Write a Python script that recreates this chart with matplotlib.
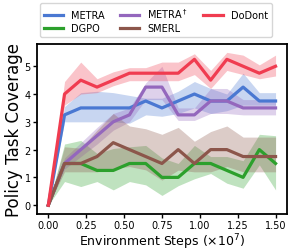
import numpy as np
import matplotlib
matplotlib.use("Agg")
import matplotlib.pyplot as plt

# environment steps (x 1e7)
steps = np.linspace(0, 1.5, 15)

metra = [0, 3.25, 3.5, 3.5, 3.5, 3.5, 3.75, 3.5, 3.75, 4.0, 3.75, 3.75, 4.25, 3.75, 3.75]
metra_lo = [0, 3.0, 3.0, 3.0, 3.0, 2.95, 3.25, 3.2, 3.3, 3.5, 3.3, 3.4, 3.6, 3.6, 3.6]
metra_hi = [0, 3.55, 4.05, 4.1, 4.05, 3.95, 3.85, 3.85, 4.1, 4.45, 4.2, 4.0, 4.75, 4.05, 4.05]

metra_dag = [0, 1.5, 2.0, 2.5, 3.0, 3.25, 4.25, 4.25, 3.25, 3.25, 3.75, 3.75, 3.5, 3.5, 3.5]
metra_dag_lo = [0, 1.3, 1.75, 2.2, 2.7, 3.0, 3.8, 3.8, 3.05, 3.05, 3.3, 3.3, 3.25, 3.25, 3.25]
metra_dag_hi = [0, 1.7, 2.25, 2.8, 3.3, 3.5, 4.4, 5.0, 3.5, 3.5, 4.2, 4.2, 3.8, 3.8, 3.8]

dodont = [0, 4.0, 4.5, 4.25, 4.5, 4.75, 4.75, 4.75, 4.75, 5.25, 4.5, 5.25, 5.0, 4.75, 5.0]
dodont_lo = [0, 3.6, 4.0, 4.05, 4.3, 4.48, 4.48, 4.48, 4.48, 4.7, 4.2, 4.85, 4.7, 4.55, 4.65]
dodont_hi = [0, 4.45, 5.15, 4.55, 4.8, 4.95, 4.95, 5.15, 5.15, 5.45, 4.85, 5.5, 5.4, 5.05, 5.4]

dgpo = [0, 1.5, 1.5, 1.25, 1.25, 1.5, 1.5, 1.0, 1.0, 1.5, 1.5, 1.25, 1.0, 2.0, 1.5]
dgpo_lo = [0, 0.85, 0.67, 0.85, 0.55, 0.85, 0.73, 0.35, 0.7, 0.95, 1.14, 0.79, 0.61, 1.45, 0.55]
dgpo_hi = [0, 2.2, 2.33, 1.86, 2.04, 2.1, 2.15, 1.7, 1.5, 2.15, 1.75, 1.75, 1.6, 2.55, 2.5]

smerl = [0, 1.5, 1.5, 1.75, 2.25, 2.0, 1.75, 1.5, 2.0, 1.5, 2.0, 2.0, 1.75, 1.75, 1.75]
smerl_lo = [0, 1.2, 1.2, 1.2, 1.32, 1.39, 1.27, 0.9, 1.26, 1.2, 1.2, 1.39, 1.2, 1.2, 1.2]
smerl_hi = [0, 2.1, 2.05, 2.7, 3.3, 2.85, 2.75, 2.55, 2.8, 2.3, 2.65, 2.85, 2.45, 2.45, 2.45]

series = [
    ("METRA", metra, metra_lo, metra_hi, "#4a78d2"),
    ("DGPO", dgpo, dgpo_lo, dgpo_hi, "#2ca02c"),
    ("METRA$^\\dagger$", metra_dag, metra_dag_lo, metra_dag_hi, "#9467bd"),
    ("SMERL", smerl, smerl_lo, smerl_hi, "#8c564b"),
    ("DoDont", dodont, dodont_lo, dodont_hi, "#f03c50"),
]

fig = plt.figure(figsize=(2.91, 2.53), dpi=100)
ax = fig.add_axes([0.127, 0.15, 0.859, 0.672])

for name, mean, lo, hi, color in series:
    ax.fill_between(steps, lo, hi, color=color, alpha=0.3, linewidth=0)
    ax.plot(steps, mean, color=color, linewidth=2.3, label=name)

ax.set_xlim(-0.075, 1.575)
ax.set_ylim(-0.32, 5.8)
ax.set_xticks([0, 0.25, 0.5, 0.75, 1.0, 1.25, 1.5])
ax.set_yticks([0, 1, 2, 3, 4, 5])
ax.tick_params(labelsize=7, length=3, width=1, pad=1.5)
for s in ax.spines.values():
    s.set_linewidth(1.3)
ax.set_xlabel("Environment Steps ($\\times 10^7$)", fontsize=9, labelpad=1)
ax.set_ylabel("Policy Task Coverage", fontsize=12, labelpad=1)

ax.legend(loc="lower center", bbox_to_anchor=(0.475, 1.04), ncol=3, fontsize=7,
          frameon=True, borderaxespad=0, columnspacing=1.6, handlelength=2.0,
          labelspacing=0.3)

fig.savefig("out.png", dpi=100)
